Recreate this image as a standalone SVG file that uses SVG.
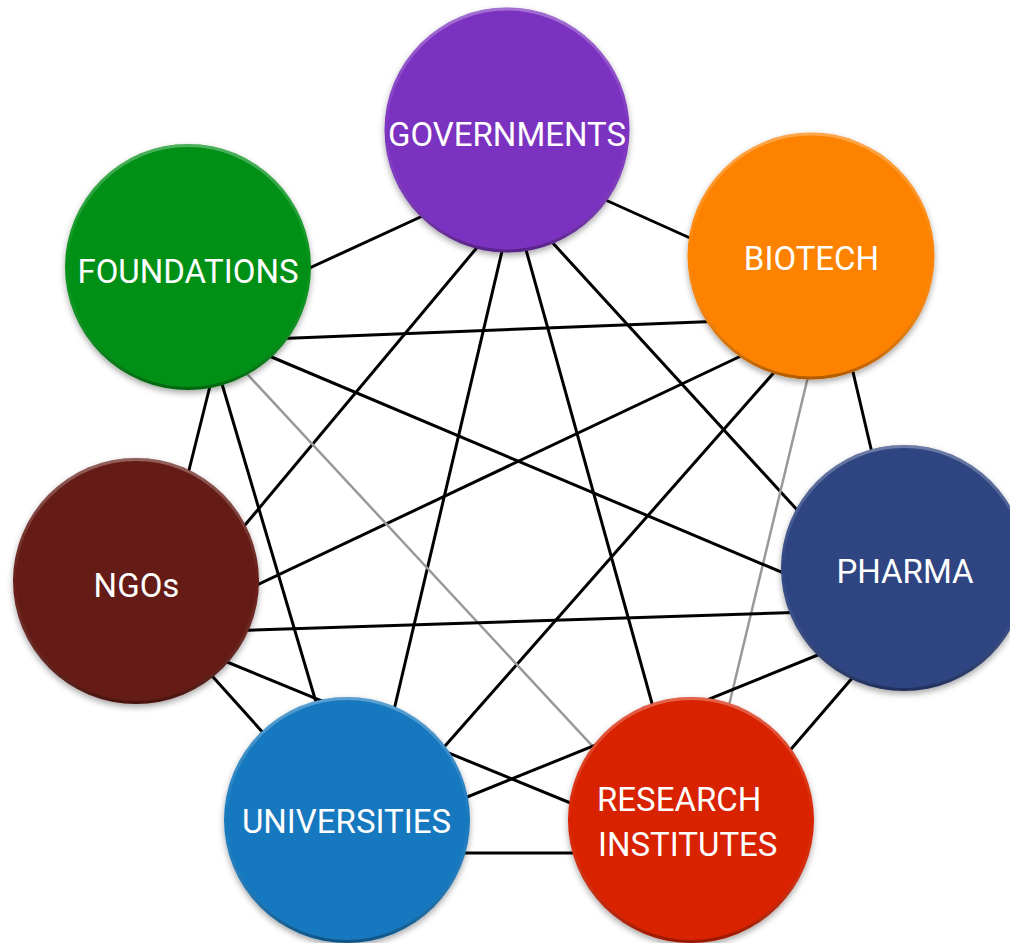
<svg xmlns="http://www.w3.org/2000/svg" width="1010" height="943" viewBox="0 0 1010 943">
<defs>
<filter id="sh" x="-20%" y="-20%" width="140%" height="140%">
<feDropShadow dx="0" dy="3" stdDeviation="3" flood-color="#000" flood-opacity="0.35"/>
</filter>
<linearGradient id="rim" x1="0" y1="0" x2="0" y2="1">
<stop offset="0" stop-color="#fff" stop-opacity="0.3"/>
<stop offset="0.5" stop-color="#fff" stop-opacity="0"/>
<stop offset="1" stop-color="#000" stop-opacity="0.3"/>
</linearGradient>
<style>
.ln{stroke:#000;stroke-width:3;fill:none}
.gr{stroke:#999;stroke-width:2.5;fill:none}
.rim{fill:none;stroke:url(#rim);stroke-width:3}
.lbl{font-family:Roboto,"Liberation Sans",sans-serif;font-size:33px;fill:#fff}
.c{text-anchor:middle}
</style>
</defs>
<rect width="1010" height="943" fill="#fff"/>
<g id="connectors">
<line class="ln" x1="290" y1="277" x2="440" y2="208"/>
<line class="ln" x1="590" y1="193" x2="710" y2="247"/>
<line class="ln" x1="490" y1="232" x2="225" y2="549"/>
<line class="ln" x1="507" y1="230" x2="390" y2="727"/>
<line class="ln" x1="520" y1="228" x2="658" y2="725"/>
<line class="ln" x1="540" y1="229" x2="810" y2="524"/>
<line class="ln" x1="270" y1="339" x2="725" y2="321"/>
<line class="ln" x1="760" y1="347" x2="240" y2="593"/>
<line class="ln" x1="785" y1="360" x2="430" y2="763"/>
<line class="gr" x1="812" y1="360" x2="725" y2="722"/>
<line class="ln" x1="849" y1="355" x2="876" y2="470"/>
<line class="ln" x1="214" y1="370" x2="184" y2="490"/>
<line class="ln" x1="217" y1="367" x2="321" y2="719"/>
<line class="gr" x1="236" y1="362" x2="610" y2="765"/>
<line class="ln" x1="255" y1="350" x2="800" y2="580"/>
<line class="ln" x1="225" y1="631" x2="810" y2="612"/>
<line class="ln" x1="195" y1="657" x2="275" y2="746"/>
<line class="ln" x1="210" y1="655" x2="590" y2="811"/>
<line class="ln" x1="445" y1="806" x2="835" y2="648"/>
<line class="ln" x1="866" y1="662" x2="780" y2="762"/>
<line class="ln" x1="440" y1="853" x2="600" y2="853"/>
</g>
<g id="governments">
<circle cx="507" cy="130" r="122.5" fill="#7B30C0" filter="url(#sh)"/>
<circle class="rim" cx="507" cy="130" r="121"/>
<text class="lbl c" x="507" y="146">GOVERNMENTS</text>
</g>
<g id="biotech">
<circle cx="811" cy="256" r="123.5" fill="#FD8204" filter="url(#sh)"/>
<circle class="rim" cx="811" cy="256" r="122"/>
<text class="lbl c" x="811.5" y="270">BIOTECH</text>
</g>
<g id="foundations">
<circle cx="188" cy="267" r="123" fill="#029012" filter="url(#sh)"/>
<circle class="rim" cx="188" cy="267" r="121.5"/>
<text class="lbl c" x="188" y="283">FOUNDATIONS</text>
</g>
<g id="ngos">
<circle cx="136" cy="581" r="123" fill="#651A18" filter="url(#sh)"/>
<circle class="rim" cx="136" cy="581" r="121.5"/>
<text class="lbl c" x="136.5" y="597">NGOs</text>
</g>
<g id="pharma">
<circle cx="904" cy="568" r="123" fill="#2F4581" filter="url(#sh)"/>
<circle class="rim" cx="904" cy="568" r="121.5"/>
<text class="lbl c" x="905" y="583">PHARMA</text>
</g>
<g id="universities">
<circle cx="347" cy="820" r="123" fill="#1878BE" filter="url(#sh)"/>
<circle class="rim" cx="347" cy="820" r="121.5"/>
<text class="lbl c" x="346.5" y="833">UNIVERSITIES</text>
</g>
<g id="research-institutes">
<circle cx="691" cy="820" r="123" fill="#D82001" filter="url(#sh)"/>
<circle class="rim" cx="691" cy="820" r="121.5"/>
<text class="lbl" x="597" y="811">RESEARCH</text>
<text class="lbl" x="598" y="856">INSTITUTES</text>
</g>
</svg>
